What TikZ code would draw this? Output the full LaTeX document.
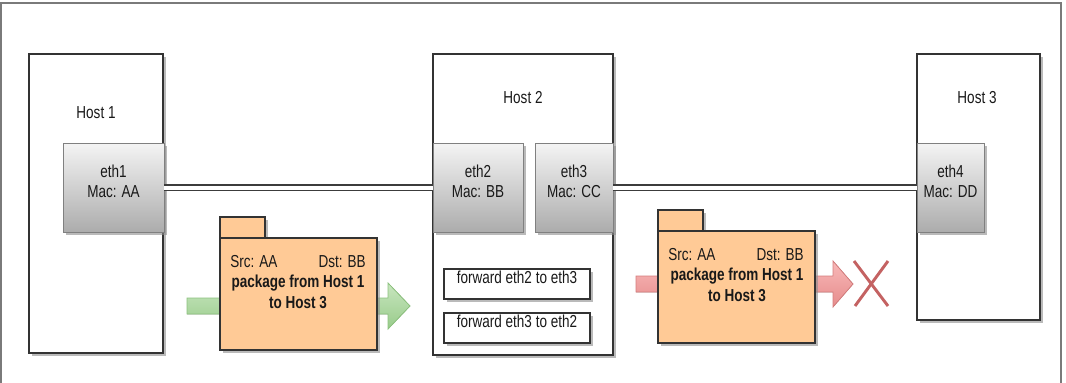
\documentclass[tikz,border=0pt]{standalone}
\usepackage{fontspec}
\setmainfont[FakeStretch=0.78]{Liberation Sans}
\usetikzlibrary{fit,shadows}
\definecolor{frame}{HTML}{7A7A7A}
\definecolor{edge}{HTML}{333333}
\definecolor{ethtop}{HTML}{F4F4F4}
\definecolor{ethbot}{HTML}{ACACAC}
\definecolor{ethedge}{HTML}{808080}
\definecolor{pkgfill}{HTML}{FFCA96}
\definecolor{grtop}{HTML}{C8E6BF}
\definecolor{grbot}{HTML}{98CB8A}
\definecolor{gredge}{HTML}{8CC27E}
\definecolor{rdtop}{HTML}{F8B8B8}
\definecolor{rdbot}{HTML}{E68C8C}
\definecolor{rdedge}{HTML}{D47C7C}
\definecolor{xcol}{HTML}{C46262}
\definecolor{linkcol}{HTML}{3C3C3C}
\tikzset{
  txt/.style={font=\fontsize{13}{15.5}\selectfont, text=black!90},
  shd/.style={drop shadow={shadow xshift=2.2pt, shadow yshift=-2.2pt, fill=black!45, opacity=0.6}},
  hostbox/.style={draw=edge, line width=1pt, fill=white, inner sep=0pt, shd},
  ethbox/.style={draw=ethedge, line width=0.7pt, top color=ethtop, bottom color=ethbot, inner sep=0pt, shd, txt, align=center},
  fwdbox/.style={draw=edge, line width=1pt, fill=white, inner sep=0pt, shd, txt},
  pkgbox/.style={draw=edge, line width=1pt, fill=pkgfill, inner sep=0pt, shd},
  link/.style={draw=linkcol, line width=1.4pt, double=white, double distance=3pt},
  lbl/.style={txt, inner sep=0pt},
  bold/.style={txt, inner sep=0pt, font=\fontsize{13}{15.5}\selectfont\bfseries, align=center},
}
\begin{document}
\begin{tikzpicture}[x=0.75pt,y=-0.75pt]
\useasboundingbox (0,0) rectangle (1066,382);
% outer frame
\draw[frame, line width=0.9pt] (1,390) -- (1,3) -- (1061,3) -- (1061,390);

% hosts
\node[hostbox, fit={(29,54) (163,353)}] (host1) {};
\node[lbl] (host1lbl) at (96,113) {Host 1};
\node[hostbox, fit={(433,54) (613,355)}] (host2) {};
\node[lbl] (host2lbl) at (523,98) {Host 2};
\node[hostbox, fit={(917,54) (1040,320)}] (host3) {};
\node[lbl] (host3lbl) at (977,98) {Host 3};

% interfaces
\node[ethbox, fit={(63,143) (164,232)}] (eth1) {eth1\\Mac: AA};
\node[ethbox, fit={(433,143) (523,232)}] (eth2) {eth2\\Mac: BB};
\node[ethbox, fit={(535,143) (613,232)}] (eth3) {eth3\\Mac: CC};
\node[ethbox, fit={(917,143) (984,232)}] (eth4) {eth4\\Mac: DD};

% links
\draw[link] (eth1.east) -- (eth2.west);
\draw[link] (eth3.east) -- (eth4.west);

% forwarding rules
\node[fwdbox, fit={(444,269) (590,299)}] (fwd1) {forward eth2 to eth3};
\node[fwdbox, fit={(444,313) (590,343)}] (fwd2) {forward eth3 to eth2};

% green arrow
\fill[top color=grtop, bottom color=grbot, draw=gredge, line width=0.6pt]
  (187,298) -- (388,298) -- (388,283) -- (410,306) -- (388,329) -- (388,314) -- (187,314) -- cycle;
% package 1
\node[pkgbox, fit={(220,217) (265,238)}] (pkg1tab) {};
\node[pkgbox, fit={(220,238) (377,350)}] (pkg1) {};
\node[lbl, anchor=west] (pkg1src) at (230,262) {Src: AA};
\node[lbl, anchor=east] (pkg1dst) at (366,262) {Dst: BB};
\node[bold] (pkg1txt) at (298,292) {package from Host 1\\to Host 3};

% red arrow
\fill[top color=rdtop, bottom color=rdbot, draw=rdedge, line width=0.6pt]
  (636,276) -- (833,276) -- (833,261) -- (853,284) -- (833,307) -- (833,292) -- (636,292) -- cycle;
% package 2
\node[pkgbox, fit={(658,210) (703,231)}] (pkg2tab) {};
\node[pkgbox, fit={(658,231) (815,343)}] (pkg2) {};
\node[lbl, anchor=west] (pkg2src) at (668,255) {Src: AA};
\node[lbl, anchor=east] (pkg2dst) at (804,255) {Dst: BB};
\node[bold] (pkg2txt) at (737,285) {package from Host 1\\to Host 3};

% red cross
\coordinate (xa) at (854,261);
\coordinate (xb) at (888,306);
\coordinate (xc) at (888,261);
\coordinate (xd) at (855,306);
\draw[xcol, line width=2.2pt] (xa) -- (xb);
\draw[xcol, line width=2.2pt] (xc) -- (xd);
\end{tikzpicture}
\end{document}
